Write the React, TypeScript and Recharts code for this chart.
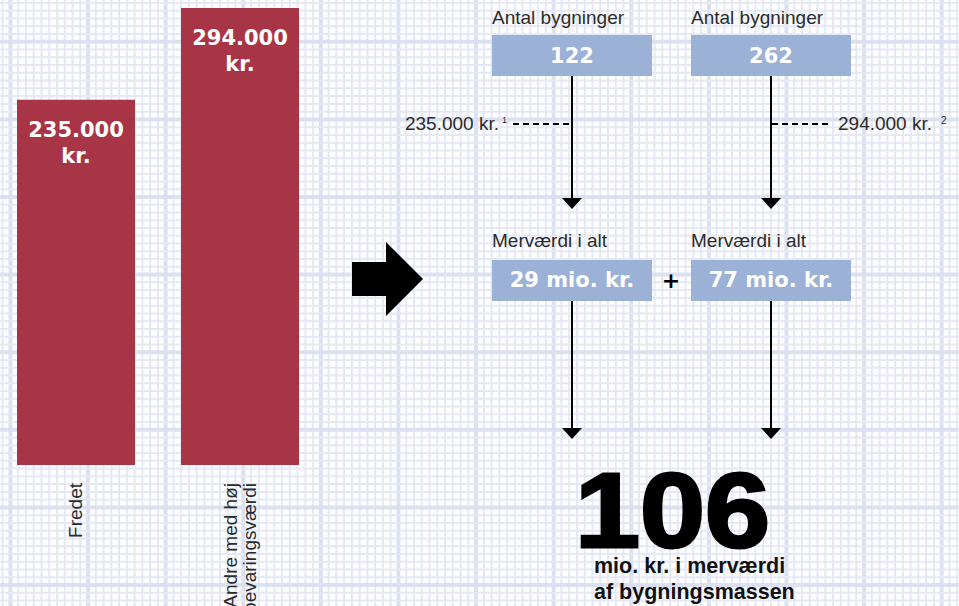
import React from "react";
import { Bar, BarChart, LabelList, XAxis, YAxis } from "recharts";

// bar chart data
const categories = ["Fredet", "Andre med høj bevaringsværdi"];
const tickLines = [["Fredet"], ["Andre med høj", "bevaringsværdi"]];
const prices = [235000, 294000];

// infographic values
const buildingCounts = [122, 262];
const addedValue = [29, 77]; // mio. kr.
const footnotes = ["1", "2"];
const totalAddedValue = 106;

const data = categories.map((name, i) => ({ name, price: prices[i] }));

const barColor = "#a83546";
const boxColor = "#9bb1d6";
const textColor = "#2b2b2b";
const regular = "'Liberation Sans', Arial, sans-serif";
const heavy = "'DejaVu Sans', sans-serif";

const fmt = (v: number) => String(v).replace(/\B(?=(\d{3})+(?!\d))/g, ".");

function Grid() {
  const minor = "#e5e8f5";
  const major = "#dce1f1";
  const lines: React.ReactNode[] = [];
  for (let k = 0; k * 7.76 < 965; k++) {
    const x = 2.7 + k * 7.76;
    const isMajor = k % 10 === 1;
    lines.push(
      <line key={"v" + k} x1={x} x2={x} y1={0} y2={606} stroke={isMajor ? major : minor} strokeWidth={isMajor ? 4 : 2} />
    );
  }
  for (let k = 0; k * 7.76 < 610; k++) {
    const y = 3 + k * 7.76;
    const isMajor = k % 10 === 5;
    lines.push(
      <line key={"h" + k} x1={0} x2={959} y1={y} y2={y} stroke={isMajor ? major : minor} strokeWidth={isMajor ? 4 : 2} />
    );
  }
  return (
    <svg width={959} height={606} style={{ position: "absolute", left: 0, top: 0 }}>
      <rect width={959} height={606} fill="#ffffff" />
      {lines}
    </svg>
  );
}

function RotatedTick(props: any) {
  const { x, payload } = props;
  const idx = categories.indexOf(payload.value);
  const lines = tickLines[idx] || [payload.value];
  const n = lines.length;
  return (
    <text
      transform={`translate(${x},483) rotate(-90)`}
      textAnchor="end"
      fontFamily={regular}
      fontSize={19}
      fill={textColor}>
      {lines.map((l, i) => (
        <tspan key={i} x={0} y={6 + (i - (n - 1) / 2) * 19}>
          {l}
        </tspan>
      ))}
    </text>
  );
}

function BarValue(props: any) {
  const { x, y, width, value } = props;
  const cx = x + width / 2;
  return (
    <text textAnchor="middle" fontFamily={heavy} fontWeight="bold" fontSize={21} fill="#ffffff">
      <tspan x={cx} y={y + 37}>{fmt(value)}</tspan>
      <tspan x={cx} y={y + 63}>kr.</tspan>
    </text>
  );
}

function ArrowDown({ x, y1, y2 }: { x: number; y1: number; y2: number }) {
  return (
    <g>
      <line x1={x} x2={x} y1={y1} y2={y2 - 10} stroke="#000" strokeWidth={2} />
      <polygon points={`${x - 10},${y2 - 11} ${x + 10},${y2 - 11} ${x},${y2}`} fill="#000" />
    </g>
  );
}

function Infographic() {
  const colX = [572, 771];
  return (
    <svg width={959} height={606} style={{ position: "absolute", left: 0, top: 0 }}>
      {/* big arrow */}
      <polygon points="352,262 386,262 386,242 423,279 386,316 386,296 352,296" fill="#000" />

      {colX.map((cx, i) => (
        <g key={i}>
          <text x={cx - 80} y={23.5} fontFamily={regular} fontSize={19} fill={textColor}>
            Antal bygninger
          </text>
          <rect x={cx - 80} y={35} width={160} height={41} fill={boxColor} />
          <text x={cx} y={63} textAnchor="middle" fontFamily={heavy} fontWeight="bold" fontSize={21} fill="#fff">
            {buildingCounts[i]}
          </text>
          <ArrowDown x={cx} y1={76} y2={209} />

          <text x={cx - 80} y={246.5} fontFamily={regular} fontSize={19} fill={textColor}>
            Merværdi i alt
          </text>
          <rect x={cx - 80} y={260} width={160} height={41} fill={boxColor} />
          <text x={cx} y={286.5} textAnchor="middle" fontFamily={heavy} fontWeight="bold" fontSize={21} fill="#fff">
            {addedValue[i]} mio. kr.
          </text>
          <ArrowDown x={cx} y1={301} y2={439} />
        </g>
      ))}

      {/* price per building, dashed leaders */}
      <line x1={513} x2={572} y1={124} y2={124} stroke="#000" strokeWidth={2} strokeDasharray="6 4" />
      <text x={499} y={129.5} textAnchor="end" fontFamily={regular} fontSize={19} fill={textColor}>
        {fmt(prices[0])} kr.
      </text>
      <text x={502} y={123} fontFamily={regular} fontSize={9} fill={textColor}>
        {footnotes[0]}
      </text>

      <line x1={772} x2={832} y1={124} y2={124} stroke="#000" strokeWidth={2} strokeDasharray="6 4" />
      <text x={838} y={129.5} fontFamily={regular} fontSize={19} fill={textColor}>
        {fmt(prices[1])} kr.
      </text>
      <text x={941} y={124} fontFamily={regular} fontSize={10} fill={textColor}>
        {footnotes[1]}
      </text>

      <text x={671} y={288} textAnchor="middle" fontFamily={heavy} fontWeight="bold" fontSize={22} fill="#000">
        +
      </text>

      {/* total */}
      <text
        x={575}
        y={547}
        fontFamily={regular}
        fontWeight="bold"
        fontSize={106}
        fill="#000"
        stroke="#000"
        strokeWidth={3}
        textLength={195}
        lengthAdjust="spacingAndGlyphs">
        {totalAddedValue}
      </text>
      <text x={594} y={573} fontFamily={regular} fontWeight="bold" fontSize={21.5} fill="#111">
        mio. kr. i merværdi
      </text>
      <text x={594} y={599} fontFamily={regular} fontWeight="bold" fontSize={21.5} fill="#111">
        af bygningsmassen
      </text>
    </svg>
  );
}

export default function App() {
  return (
    <div style={{ position: "absolute", left: 0, top: 0, width: 959, height: 606, overflow: "hidden" }}>
      <Grid />
      <div style={{ position: "absolute", left: -6, top: 0 }}>
        <BarChart width={328} height={606} data={data} margin={{ top: 8, right: 0, bottom: 0, left: 0 }}>
          <XAxis
            dataKey="name"
            height={141}
            axisLine={false}
            tickLine={false}
            interval={0}
            tick={<RotatedTick />}
          />
          <YAxis hide domain={[0, 294000]} />
          <Bar dataKey="price" fill={barColor} barSize={118} isAnimationActive={false}>
            <LabelList dataKey="price" content={<BarValue />} />
          </Bar>
        </BarChart>
      </div>
      <Infographic />
    </div>
  );
}
